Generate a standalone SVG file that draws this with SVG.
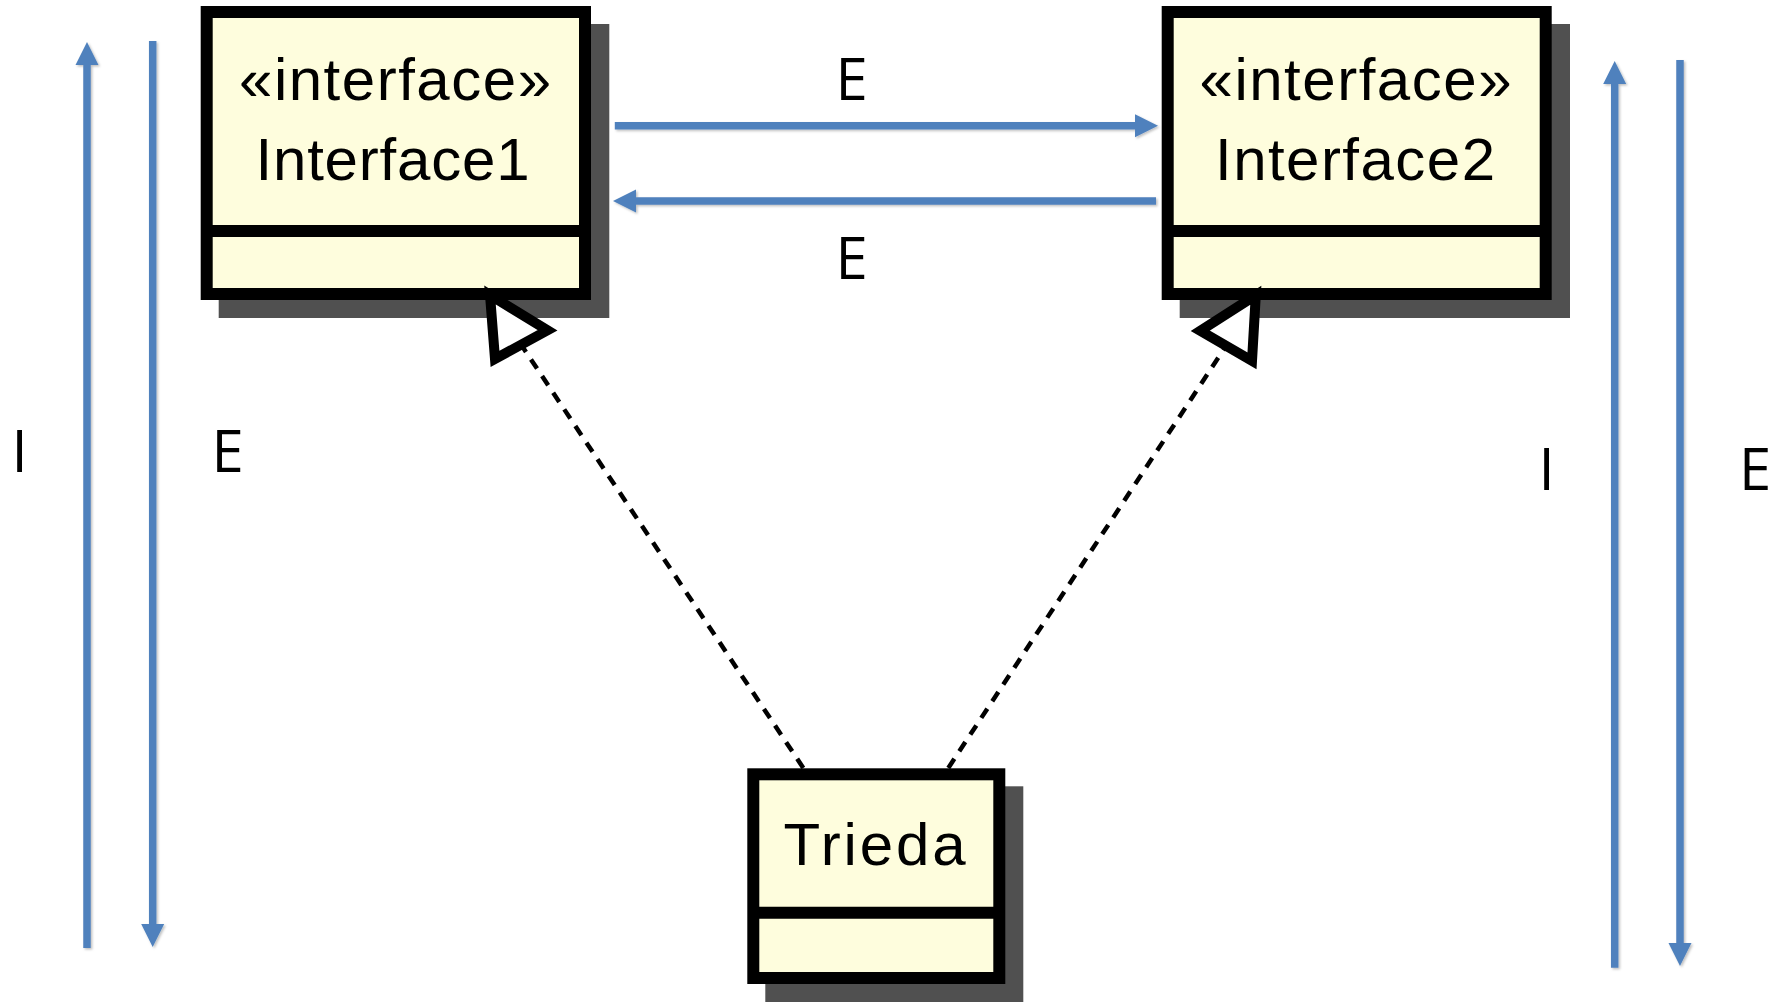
<svg xmlns="http://www.w3.org/2000/svg" width="1779" height="1002" viewBox="0 0 1779 1002">
  <style>
    .shadow { fill: #505050; }
    .box { fill: #FEFDDD; stroke: #000; stroke-width: 12; }
    .divider { stroke: #000; stroke-width: 12; }
    .cls { font-family: "Liberation Sans", Arial, sans-serif; font-size: 60px; fill: #000; text-anchor: middle; }
    .lbl { font-family: "Open Sans", "Liberation Sans", sans-serif; font-size: 58px; fill: #000; text-anchor: middle; }
    .flow { stroke: #4F81BD; stroke-width: 7.5; fill: none; marker-end: url(#blueHead); filter: url(#soft); }
    .realize { stroke: #000; stroke-width: 4.5; stroke-dasharray: 11 9; fill: none; }
    .hollow { fill: #fff; stroke: #000; stroke-width: 10; stroke-linejoin: miter; }
  </style>
  <defs>
    <marker id="blueHead" markerUnits="userSpaceOnUse" markerWidth="24" markerHeight="24" viewBox="0 -12 24 24" refX="1" refY="0" orient="auto">
      <path d="M0,-11.5 L23,0 L0,11.5 Z" fill="#4F81BD"/>
    </marker>
    <!-- soft drop shadow under the blue arrows; user-space region so thin lines keep a non-empty area -->
    <filter id="soft" filterUnits="userSpaceOnUse" x="0" y="0" width="1779" height="1002">
      <feDropShadow dx="1.5" dy="1.5" stdDeviation="1.2" flood-color="#000" flood-opacity="0.25"/>
    </filter>
  </defs>

  <!-- class: Interface1 -->
  <g id="interface1">
    <rect class="shadow" x="218.7" y="24" width="390.6" height="294"/>
    <rect class="box" x="206.7" y="12" width="378.3" height="282"/>
    <line class="divider" x1="206.7" y1="231" x2="585" y2="231"/>
    <text class="cls" x="395" y="100" textLength="312" lengthAdjust="spacing">«interface»</text>
    <text class="cls" x="392.5" y="180" textLength="274" lengthAdjust="spacing">Interface1</text>
  </g>

  <!-- class: Interface2 -->
  <g id="interface2">
    <rect class="shadow" x="1179.7" y="24" width="390.3" height="294"/>
    <rect class="box" x="1167.7" y="12" width="378" height="282"/>
    <line class="divider" x1="1167.7" y1="231" x2="1545.7" y2="231"/>
    <text class="cls" x="1355.5" y="100" textLength="312" lengthAdjust="spacing">«interface»</text>
    <text class="cls" x="1355" y="180" textLength="280" lengthAdjust="spacing">Interface2</text>
  </g>

  <!-- class: Trieda -->
  <g id="trieda">
    <rect class="shadow" x="765.3" y="786.3" width="258" height="216"/>
    <rect class="box" x="753.3" y="774.3" width="246" height="203.7"/>
    <line class="divider" x1="753.3" y1="912.7" x2="999.3" y2="912.7"/>
    <text class="cls" x="874.5" y="865" textLength="182" lengthAdjust="spacing">Trieda</text>
  </g>

  <!-- connectors -->
  <g id="connectors">
    <!-- realizations Trieda -> interfaces -->
    <line class="realize" x1="803.3" y1="768" x2="521" y2="344.5"/>
    <polygon class="hollow" points="490,295 547.5,330.3 495,359"/>
    <line class="realize" x1="948.3" y1="768" x2="1226" y2="346"/>
    <polygon class="hollow" points="1255.8,295.3 1200.3,330.8 1252,360.8"/>

    <!-- blue flow arrows -->
    <line class="flow" x1="614.8" y1="125.7" x2="1136" y2="125.7"/>
    <line class="flow" x1="1156" y1="201" x2="635" y2="201"/>
    <line class="flow" x1="87" y1="948" x2="87" y2="64"/>
    <line class="flow" x1="152.7" y1="41" x2="152.7" y2="925"/>
    <line class="flow" x1="1614.7" y1="967.7" x2="1614.7" y2="83"/>
    <line class="flow" x1="1680" y1="60" x2="1680" y2="944"/>
  </g>

  <!-- flow labels -->
  <g id="labels">
    <text class="lbl" x="851.5" y="100">E</text>
    <text class="lbl" x="851.5" y="279">E</text>
    <text class="lbl" x="19.7" y="472">I</text>
    <text class="lbl" x="227.5" y="472">E</text>
    <text class="lbl" x="1546.7" y="490">I</text>
    <text class="lbl" x="1755" y="490">E</text>
  </g>
</svg>
